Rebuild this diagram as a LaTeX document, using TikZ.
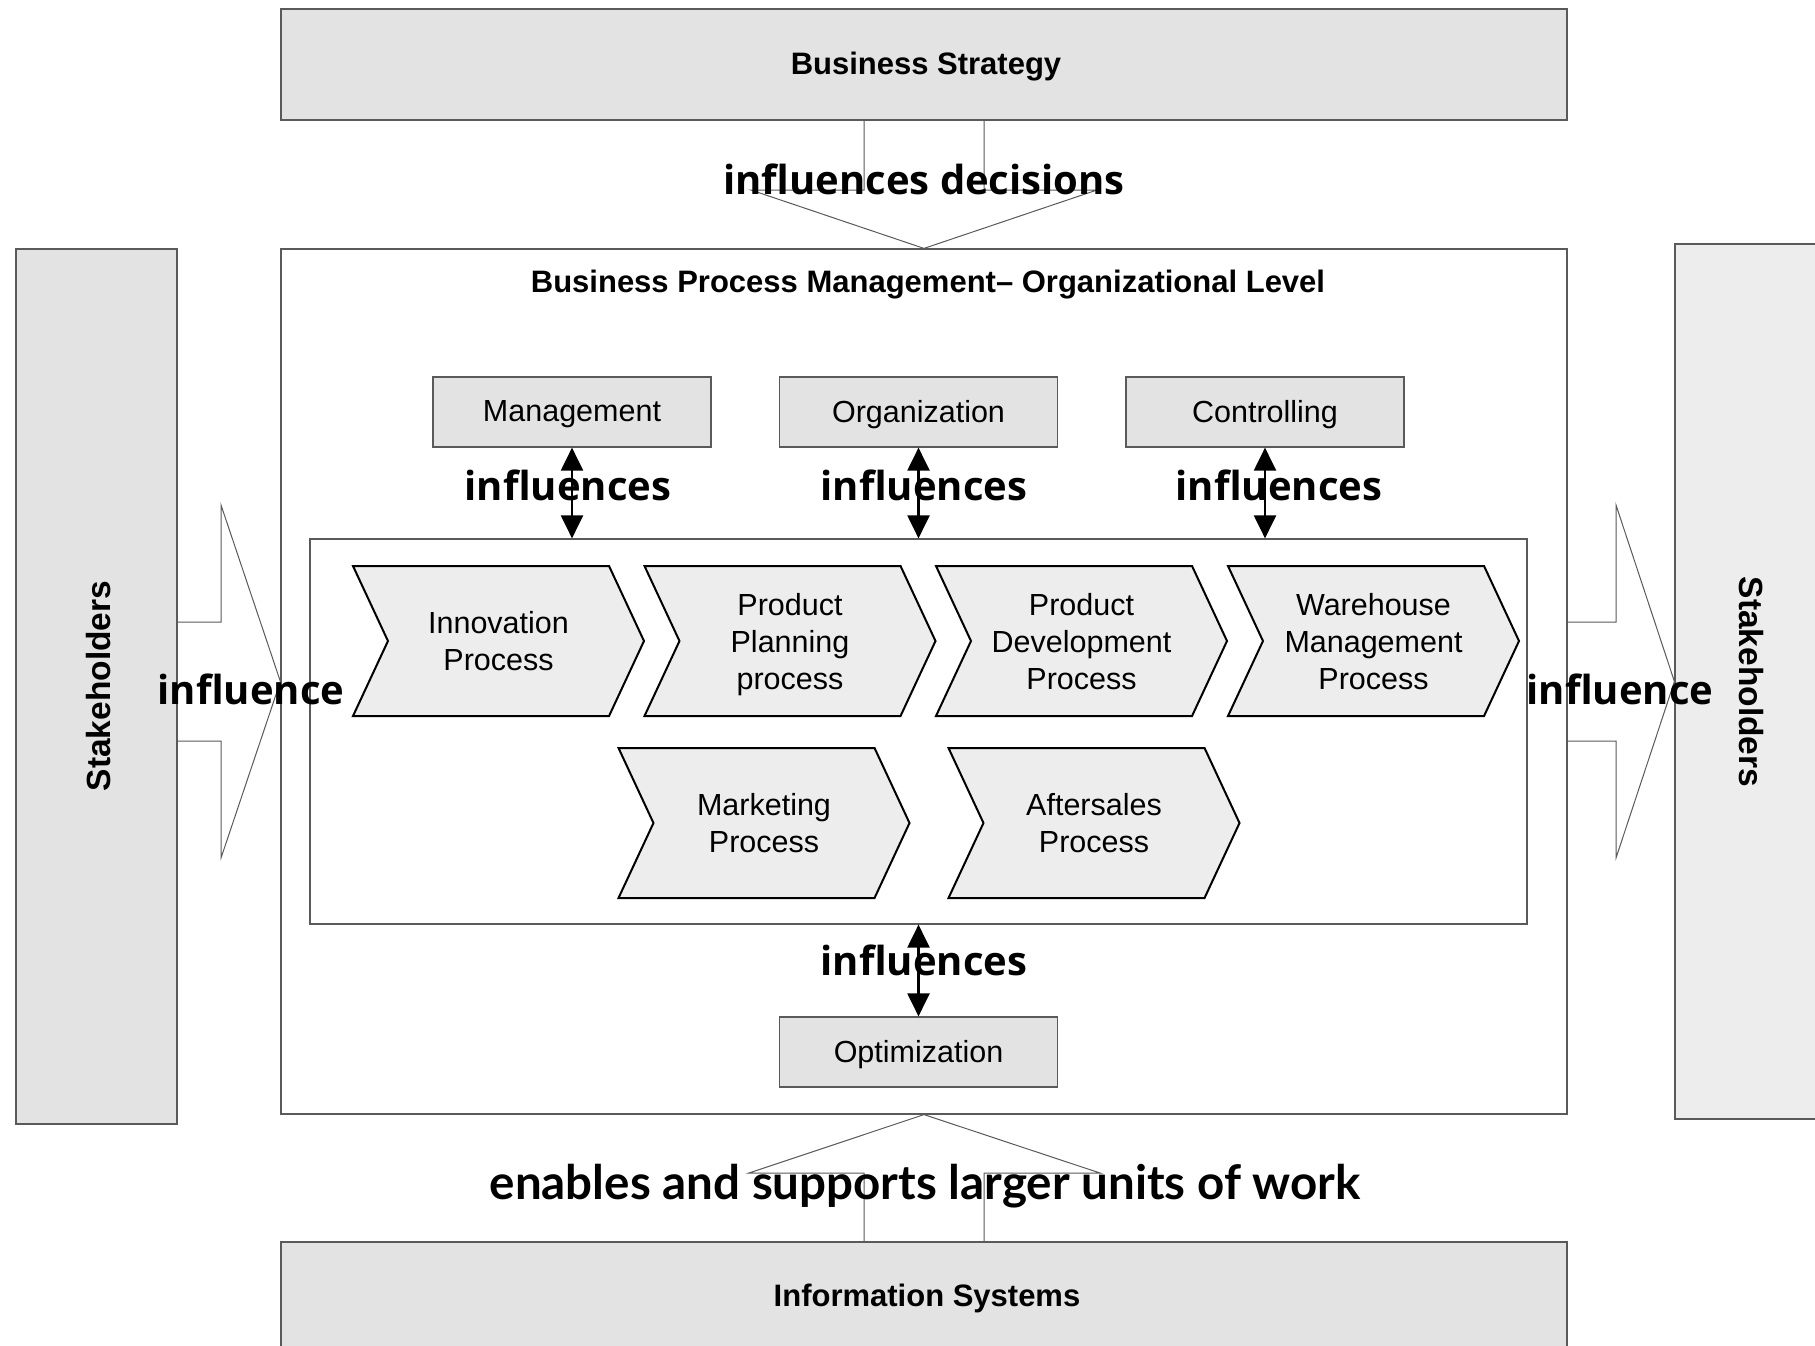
\documentclass[tikz,border=0pt]{standalone}
\usepackage{fontspec}
\setmainfont{Liberation Sans}
\newfontfamily\inflfont{Open Sans}
\newfontfamily\workfont{Lato}
\usetikzlibrary{shapes.symbols,arrows.meta,positioning}

\definecolor{boxgray}{HTML}{E3E3E3}
\definecolor{lightgray}{HTML}{EDEDED}
\definecolor{linegray}{HTML}{5A5A5A}

\tikzset{
  box/.style={draw=linegray, fill=boxgray, line width=1.2pt, inner sep=0pt, text depth=0.12em, font=\fontsize{30.5}{36}\selectfont},
  frame/.style={draw=linegray, line width=1.2pt, inner sep=0pt},
  headline/.style={font=\bfseries\fontsize{31}{36}\selectfont},
  chev/.style={signal, signal to=east, signal from=west, signal pointer angle=130, draw=black, line width=2pt, fill=lightgray, minimum width=291pt, minimum height=150pt, inner sep=0pt, text depth=0pt, align=center, font=\fontsize{30.5}{37}\selectfont},
  infl/.style={font=\inflfont\bfseries\fontsize{40}{45}\selectfont},
  bigarrow/.style={draw=linegray, line width=1pt},
  dbl/.style={{Triangle[length=23pt,width=22pt]}-{Triangle[length=23pt,width=22pt]}, line width=2.2pt}
}

\begin{document}
\begin{tikzpicture}[x=1pt,y=-1pt]
\useasboundingbox[fill=white] (0,0) rectangle (1815,1346);

% outer boxes
\node[box, minimum width=1286pt, minimum height=111pt] (strategy) at (924,64.5) {};
\node[headline] (strategytext) at (926,67) {Business Strategy};
\node[frame, minimum width=1286pt, minimum height=865pt] (bpm) at (924,681.5) {};
\node[headline] (bpmtitle) at (928,285) {Business Process Management-- Organizational Level};
\node[box, minimum width=1286pt, minimum height=110pt] (infosys) at (924,1297) {};
\node[headline] (infosystext) at (927,1298) {Information Systems};
\node[box, minimum width=161pt, minimum height=875pt] (lstake) at (96.5,686.5) {};
\node[font=\bfseries\fontsize{33.5}{38}\selectfont, rotate=90] (lstaketext) at (99,686) {Stakeholders};
\node[box, fill=lightgray, minimum width=152pt, minimum height=875pt] (rstake) at (1751,681.5) {};
\node[font=\bfseries\fontsize{33.5}{38}\selectfont, rotate=-90] (rstaketext) at (1751,682) {Stakeholders};

% top row and optimization
\node[box, minimum width=278pt, minimum height=70pt] (mgmt) at (572,412) {Management};
\node[box, minimum width=278pt, minimum height=70pt] (org) at (918.5,412) {Organization};
\node[box, minimum width=278pt, minimum height=70pt] (ctrl) at (1265,412) {Controlling};
\node[box, minimum width=278pt, minimum height=70pt] (opt) at (918.5,1052) {Optimization};

% processes
\node[frame, minimum width=1217pt, minimum height=385pt] (proc) at (918.5,731.5) {};
\node[chev] (inno) at (498.5,641) {Innovation\\Process};
\node[chev] (plan) at (790,641) {Product\\Planning\\process};
\node[chev] (dev) at (1081.5,641) {Product\\Development\\Process};
\node[chev] (ware) at (1373.5,641) {Warehouse\\Management\\Process};
\node[chev] (mkt) at (764,823) {Marketing\\Process};
\node[chev] (after) at (1094,823) {Aftersales\\Process};

% influences arrows
\draw[dbl] (mgmt.south) -- (mgmt.south |- proc.north);
\draw[dbl] (org.south) -- (org.south |- proc.north);
\draw[dbl] (ctrl.south) -- (ctrl.south |- proc.north);
\draw[dbl] (opt.north) -- (opt.north |- proc.south);
\node[infl] (inflmgmt) at (568,485) {influences};
\node[infl] (inflorg) at (924,485) {influences};
\node[infl] (inflctrl) at (1279,485) {influences};
\node[infl] (inflopt) at (924,960) {influences};

% strategy arrow
\draw[bigarrow] (864,120) -- (864,190) -- (751,190) -- (bpm.north) -- (1097,190) -- (984,190) -- (984,120);
\node[infl] (decisions) at (924,179) {influences decisions};

% information systems arrow
\draw[bigarrow] (864,1242) -- (864,1173) -- (749,1173) -- (bpm.south) -- (1100,1173) -- (984,1173) -- (984,1242);
\node[font=\workfont\bfseries\fontsize{47.5}{52}\selectfont] (work) at (925,1186) {enables and supports larger units of work};

% stakeholder arrows
\draw[bigarrow] (177,622) -- (221,622) -- (221,505) -- (bpm.west) -- (221,858) -- (221,741) -- (177,741);
\draw[bigarrow] (1567,622) -- (1616,622) -- (1616,505) -- (rstake.west) -- (1616,858) -- (1616,741) -- (1567,741);
\node[infl] (lflow) at (251,689) {influence};
\node[infl] (rflow) at (1620,689) {influence};
\end{tikzpicture}
\end{document}
